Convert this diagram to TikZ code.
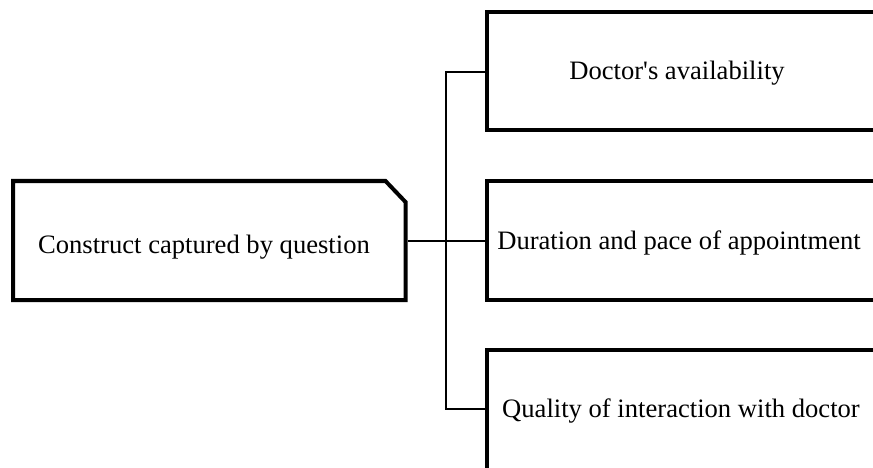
\documentclass[tikz,border=0pt]{standalone}
\usepackage{fontspec}
\setmainfont{Liberation Serif}[Ligatures=TeXOff]
\begin{document}
\begin{tikzpicture}[x=1pt,y=-1pt,
  box/.style={draw=black,line width=4pt,fill=white,inner sep=0pt},
  frame/.style={inner sep=0pt,outer sep=0pt},
  lbl/.style={inner sep=0pt,anchor=base,font=\fontsize{26.6}{30}\selectfont},
  link/.style={draw=black,line width=2pt}]
\useasboundingbox (0,0) rectangle (873,468);
\clip (0,0) rectangle (873,468);
% root node: outline drawn around its frame, top right corner cut off
\node[frame,minimum width=392.5pt,minimum height=119pt] (root) at (209.25,240.5) {};
\draw[line width=4pt,line join=miter]
  (root.south west) -- (root.north west) -- ([xshift=-20pt]root.north east)
  -- ([yshift=-21pt]root.north east) -- (root.south east) -- cycle;
% branch boxes, running off the right side
\node[box,minimum width=392pt,minimum height=118pt,anchor=west] (b1) at (485,71) {};
\node[box,minimum width=392pt,minimum height=119pt,anchor=west] (b2) at (485,240.5) {};
\node[box,minimum width=392pt,minimum height=119.5pt,anchor=west] (b3) at (485,409.75) {};
% labels
\node[lbl] (t0) at (204,253.5) {Construct captured by question};
\node[lbl] (t1) at (677,80) {Doctor's availability};
\node[lbl] (t2) at (679,249) {Duration and pace of appointment};
\node[lbl] (t3) at (681,417.3) {Quality of interaction with doctor};
% connectors
\coordinate (trunk) at (446,240.5);
\draw[link] ([xshift=2pt]root.east) -- (b2.west);
\draw[link] ([yshift=-1pt]b1.west) -| (trunk) |- ([yshift=1pt]b3.west);
\end{tikzpicture}
\end{document}
